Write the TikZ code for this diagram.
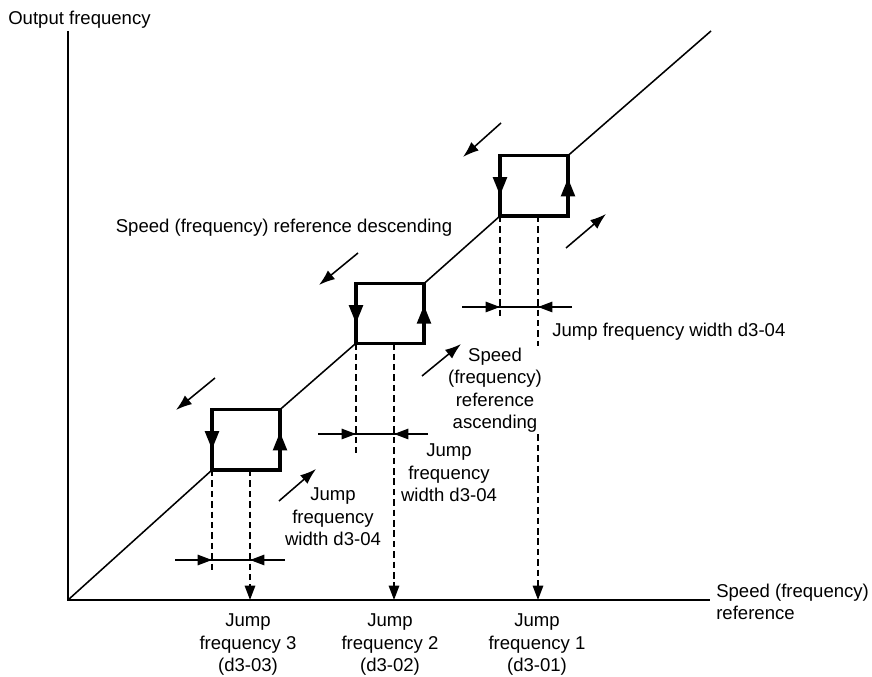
\documentclass[tikz,border=0pt]{standalone}
\usepackage{fontspec}
\setmainfont{Liberation Sans}
\usetikzlibrary{arrows.meta, positioning}

\begin{document}
\begin{tikzpicture}[
    font=\fontsize{13.2pt}{16pt}\selectfont,
    eje/.style={line width=1.4pt},
    recta/.style={line width=1.1pt},
    salto/.style={line width=2.4pt},
    punta/.style={-{Triangle[length=4.6mm,width=3.4mm]}},
    guia/.style={line width=1.3pt, dash pattern=on 4.6pt off 2.8pt},
    caida/.style={-{Triangle[length=3.6mm,width=2.6mm]}},
    ancho/.style={line width=1.2pt},
    tope/.style={-{Triangle[length=3.6mm,width=2.6mm]}},
    sentido/.style={line width=1.1pt, -{Latex[length=4mm,width=2.8mm]}},
    texto/.style={align=center, inner sep=1pt}
  ]
		\useasboundingbox (-1.7,-1.925) rectangle (20.1,15.0);

		% Ejes
		\coordinate (o) at (0,0);
		\coordinate (ejex) at (16.05,0);
		\coordinate (ejey) at (0,14.225);
		\draw[eje] (ejey) -- (o) -- (ejex);
		\node[anchor=west, inner sep=0pt] (salida) at (-1.5,14.5) {Output frequency};
		\node[anchor=west, align=left, inner sep=0pt] (consigna) at (16.2,-0.05) {Speed (frequency)\\reference};

		% Esquinas de cada salto
		\coordinate (inf1) at (3.6,3.25);    \coordinate (sup1) at (5.3,4.76);
		\coordinate (inf2) at (7.2,6.42);    \coordinate (sup2) at (8.9,7.91);
		\coordinate (inf3) at (10.8,9.6);    \coordinate (sup3) at (12.5,11.11);
		\coordinate (fin) at (16.075,14.225);
		\coordinate (m1) at ([xshift=0.95cm]inf1);
		\coordinate (m2) at ([xshift=0.95cm]inf2);
		\coordinate (m3) at ([xshift=0.95cm]inf3);

		% Recta de salida
		\draw[recta] (o) -- (inf1) (sup1) -- (inf2) (sup2) -- (inf3) (sup3) -- (fin);

		% Saltos (bajada por la izquierda, subida por la derecha)
		\draw[salto] (inf1) rectangle (sup1);
		\draw[salto, punta] (inf1 |- sup1) -- ++(0,-1.0);
		\draw[salto, punta] (inf1 -| sup1) -- ++(0,0.95);
		\draw[salto] (inf2) rectangle (sup2);
		\draw[salto, punta] (inf2 |- sup2) -- ++(0,-1.0);
		\draw[salto, punta] (inf2 -| sup2) -- ++(0,0.95);
		\draw[salto] (inf3) rectangle (sup3);
		\draw[salto, punta] (inf3 |- sup3) -- ++(0,-1.0);
		\draw[salto, punta] (inf3 -| sup3) -- ++(0,0.95);

		% Lineas de referencia
		\coordinate (g1) at (3.6,0.725);
		\coordinate (g2) at (7.2,3.675);
		\coordinate (g3) at (10.8,7.075);
		\draw[guia] (inf1) -- (g1);
		\draw[guia] (inf2) -- (g2);
		\draw[guia] (inf3) -- (g3);
		\draw[guia, caida] (m1) -- (m1 |- o);
		\draw[guia, caida] (m2) -- (m2 |- o);
		\draw[guia, caida] (m3) -- (m3 |- o);

		% Ancho de salto
		\coordinate (a1i) at (2.675,1.0);   \coordinate (a1d) at (5.425,1.0);
		\coordinate (a2i) at (6.25,4.15);   \coordinate (a2d) at (9.0,4.15);
		\coordinate (a3i) at (9.85,7.325);  \coordinate (a3d) at (12.6,7.325);
		\draw[ancho] (a1i) -- (a1d);
		\draw[ancho, tope] (a1i) -- (inf1 |- a1i);
		\draw[ancho, tope] (a1d) -- (m1 |- a1d);
		\draw[ancho] (a2i) -- (a2d);
		\draw[ancho, tope] (a2i) -- (inf2 |- a2i);
		\draw[ancho, tope] (a2d) -- (m2 |- a2d);
		\draw[ancho] (a3i) -- (a3d);
		\draw[ancho, tope] (a3i) -- (inf3 |- a3i);
		\draw[ancho, tope] (a3d) -- (m3 |- a3d);

		% Textos
		\node[texto] (baja) at (5.4,9.3) {Speed (frequency) reference descending};
		\node[texto, fill=white] (sube) at (10.675,5.25) {Speed\\(frequency)\\reference\\ascending};
		\node[texto] (ancho1) at (6.625,2.075) {Jump\\frequency\\width d3-04};
		\node[texto] (ancho2) at (9.525,3.175) {Jump\\frequency\\width d3-04};
		\node[anchor=west, inner sep=0pt] (ancho3) at (12.1,6.7) {Jump frequency width d3-04};
		\node[texto] (f3) at (4.5,-1.125) {Jump\\frequency 3\\(d3-03)};
		\node[texto] (f2) at (8.05,-1.125) {Jump\\frequency 2\\(d3-02)};
		\node[texto] (f1) at (11.725,-1.125) {Jump\\frequency 1\\(d3-01)};

		% Sentido de la consigna
		\draw[sentido] (3.675,5.55) -- (2.7,4.75);
		\draw[sentido] (7.25,8.675) -- (6.275,7.875);
		\draw[sentido] (10.825,11.925) -- (9.875,11.075);
		\draw[sentido] (5.275,2.475) -- (6.2,3.275);
		\draw[sentido] (8.85,5.6) -- (9.825,6.4);
		\draw[sentido] (12.45,8.8) -- (13.45,9.65);
	\end{tikzpicture}
\end{document}
